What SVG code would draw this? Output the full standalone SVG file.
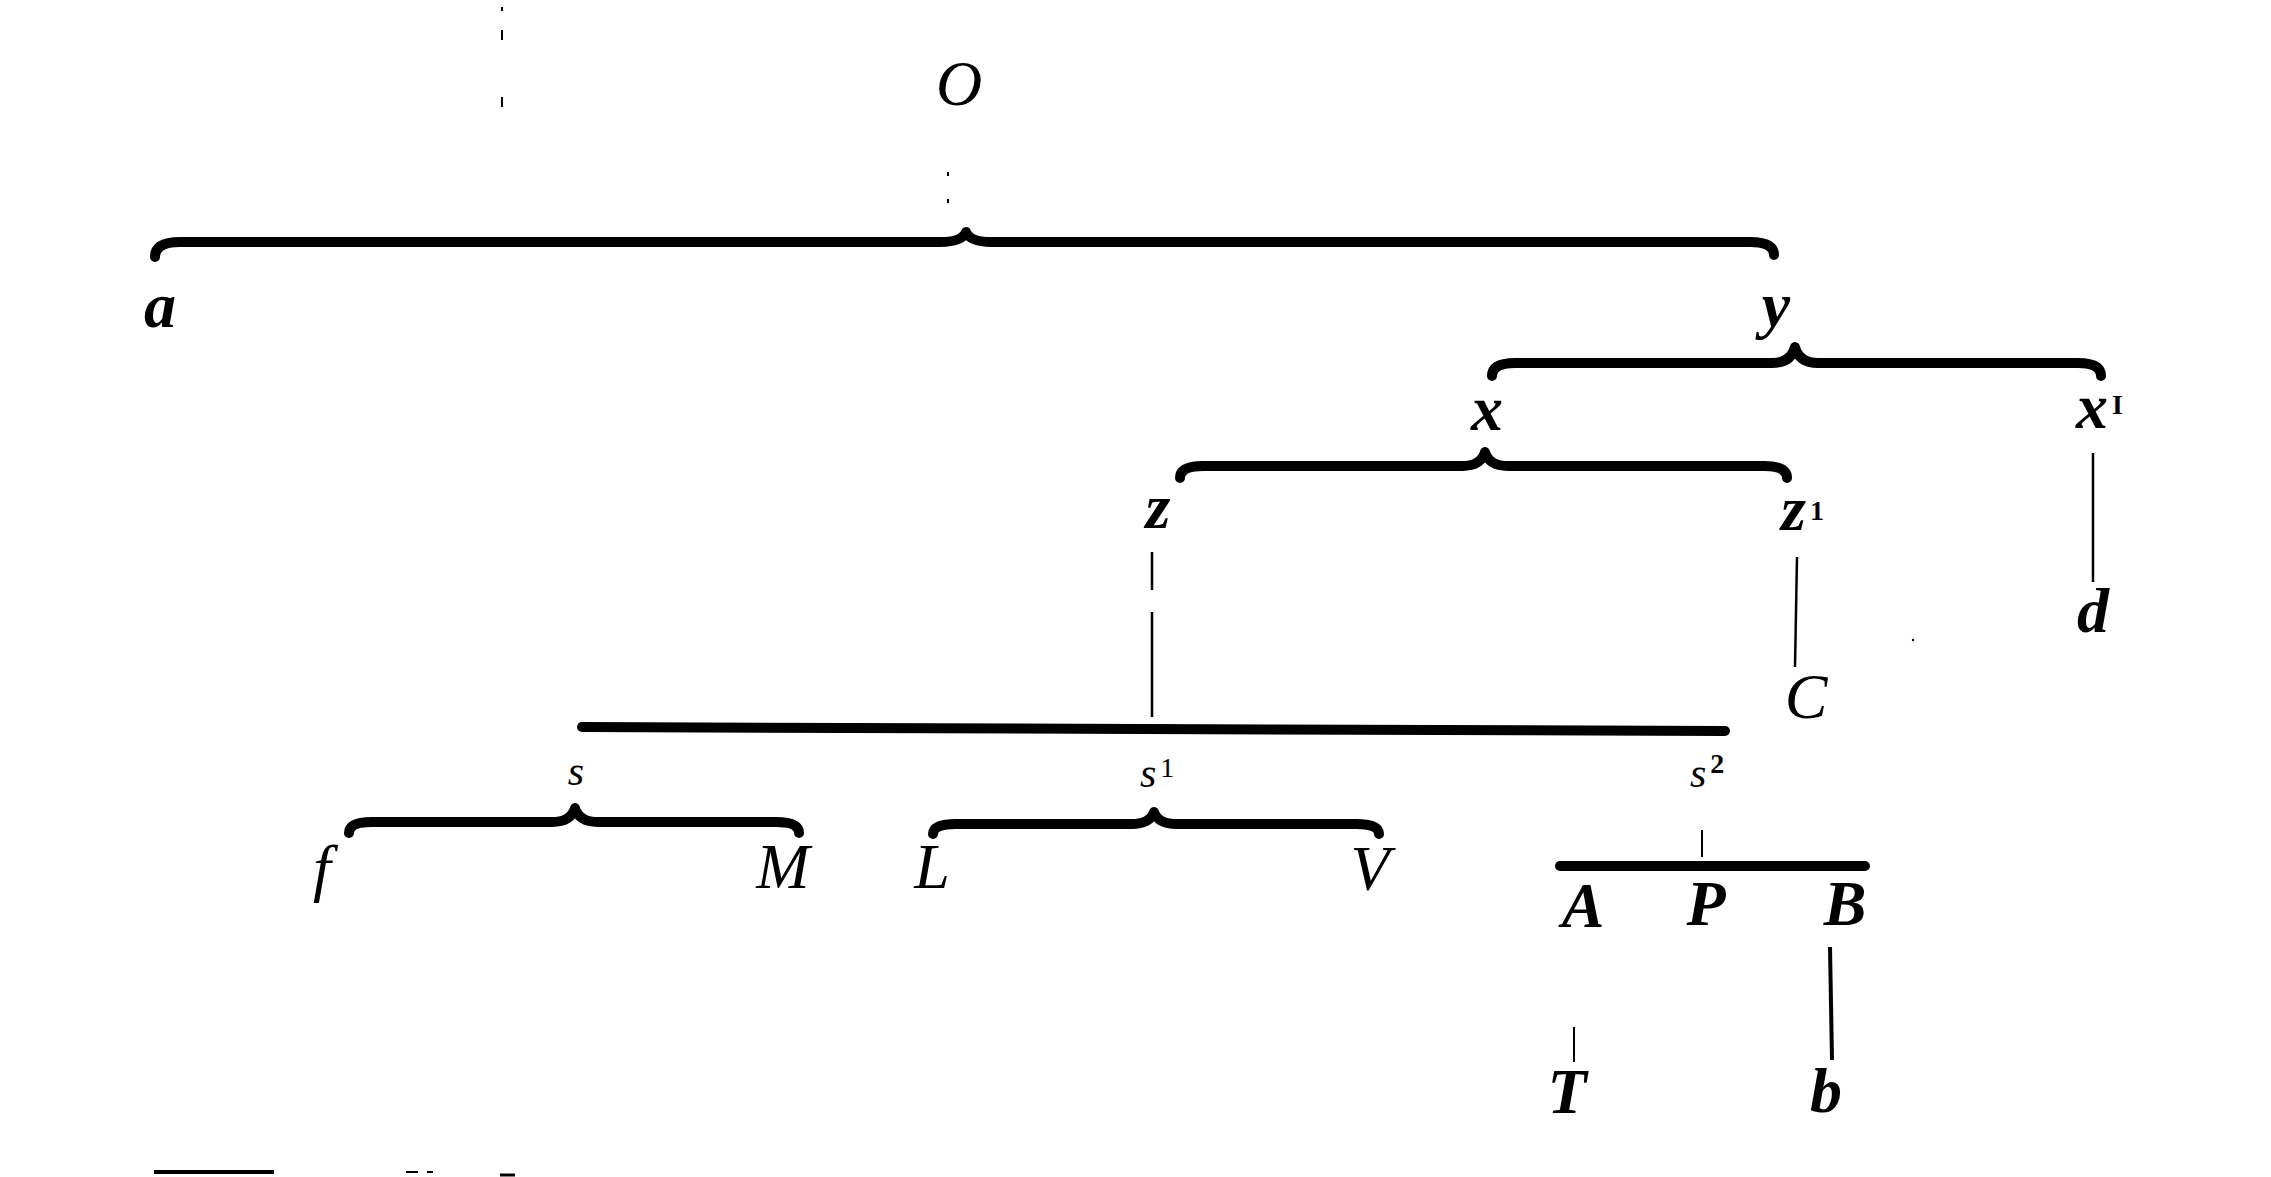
<svg xmlns="http://www.w3.org/2000/svg" width="2271" height="1177" viewBox="0 0 2271 1177">
<style>
.lb{font-family:"Liberation Serif","DejaVu Serif",serif;font-style:italic;font-size:64px;fill:#000;text-anchor:middle}
.bd{font-weight:bold}
.st{font-family:"Liberation Serif","DejaVu Serif",serif;font-style:italic;font-size:64px;fill:#000}
.sup{font-size:28px;font-style:normal}
.brace{fill:none;stroke:#000;stroke-width:10;stroke-linecap:round;stroke-linejoin:round}
.bar{fill:none;stroke:#000;stroke-width:10;stroke-linecap:round}
.thin{fill:none;stroke:#000;stroke-width:2.5}
.mark{fill:none;stroke:#000;stroke-width:2}
</style>
<rect width="2271" height="1177" fill="#fff"/>
<g id="connectors">
  <path class="brace" d="M155,257 Q155,242 180,242 L940,242 Q962,242 966,232 Q970,242 992,242 L1750,242 Q1774,242 1774,255"/>
  <path class="brace" d="M1492,376 Q1492,363 1515,363 L1772,363 Q1791,363 1795,347 Q1799,363 1818,363 L2078,363 Q2101,363 2101,376"/>
  <path class="brace" d="M1180,478 Q1180,466 1203,466 L1462,466 Q1481,466 1485,452 Q1489,466 1508,466 L1764,466 Q1787,466 1787,478"/>
  <path class="brace" d="M349,833 Q349,822 372,822 L552,822 Q571,822 575,808 Q579,822 598,822 L776,822 Q799,822 799,833"/>
  <path class="brace" d="M933,834 Q933,824 956,824 L1131,824 Q1150,824 1154,812 Q1158,824 1177,824 L1356,824 Q1379,824 1379,834"/>
  <path class="bar" d="M582,727 L1725,731"/>
  <path class="bar" d="M1560,866 L1865,866"/>
  <path class="thin" d="M1152,552 L1152,590 M1152,612 L1152,717"/>
  <path class="thin" d="M1797,557 L1795,667"/>
  <path class="thin" d="M2093,453 L2093,582"/>
  <path class="mark" d="M1702,830 L1702,857"/>
  <path class="mark" d="M1574,1027 L1574,1062"/>
  <path class="thin" style="stroke-width:4" d="M1830,947 L1832,1060"/>
  <path class="mark" d="M502,7 L502,11 M502,30 L502,40 M502,97 L502,107"/>
  <path class="mark" d="M948,172 L948,176 M948,199 L948,203"/>
</g>
<g id="node-O"><text class="lb" x="959" y="105">O</text></g>
<g id="node-a"><text class="lb bd" x="160" y="327">a</text></g>
<g id="node-y"><text class="lb bd" x="1776" y="326">y</text></g>
<g id="node-x"><text class="lb bd" x="1487" y="430">x</text></g>
<g id="node-x1"><text class="st bd" x="2076" y="428">x<tspan class="sup" font-weight="bold" dx="4" dy="-14">I</tspan></text></g>
<g id="node-z"><text class="lb bd" x="1158" y="528">z</text></g>
<g id="node-z1"><text class="st bd" x="1781" y="530">z<tspan class="sup" dx="4" dy="-10">1</tspan></text></g>
<g id="node-C"><text class="lb" x="1806" y="718">C</text></g>
<g id="node-d"><text class="lb bd" x="2093" y="632">d</text></g>
<g id="node-s"><text class="lb" style="font-size:42px" x="576" y="785">s</text></g>
<g id="node-s1"><text class="st" style="font-size:42px" x="1140" y="787">s<tspan class="sup" dx="4" dy="-10">1</tspan></text></g>
<g id="node-s2"><text class="st" style="font-size:42px" x="1690" y="787">s<tspan class="sup" font-weight="bold" dx="4" dy="-14">2</tspan></text></g>
<g id="node-f"><text class="lb" x="322" y="889">f</text></g>
<g id="node-M"><text class="lb" x="783" y="888">M</text></g>
<g id="node-L"><text class="lb" x="932" y="888">L</text></g>
<g id="node-V"><text class="lb" x="1370" y="890">V</text></g>
<g id="node-A"><text class="lb bd" x="1583" y="927">A</text></g>
<g id="node-P"><text class="lb bd" x="1706" y="925">P</text></g>
<g id="node-B"><text class="lb bd" x="1845" y="925">B</text></g>
<g id="node-T"><text class="lb bd" x="1567" y="1113">T</text></g>
<g id="node-b"><text class="lb bd" x="1826" y="1112">b</text></g>
<g id="marks">
  <path d="M154,1172 L274,1172" stroke="#000" stroke-width="4" fill="none"/>
  <path d="M406,1172 L418,1172 M427,1172 L433,1172" stroke="#000" stroke-width="2" fill="none"/>
  <path d="M500,1175 L515,1175" stroke="#000" stroke-width="3" fill="none"/>
  <circle cx="1913" cy="640" r="1.2" fill="#000"/>
</g>
</svg>
